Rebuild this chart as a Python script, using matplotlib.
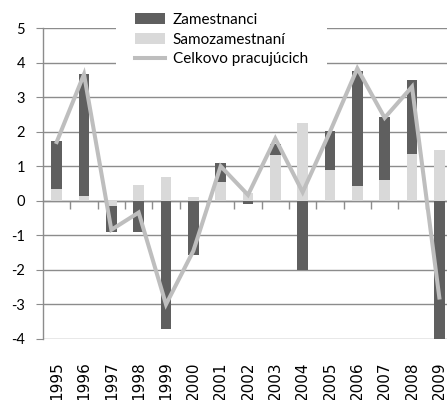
import matplotlib
matplotlib.use('Agg')
import matplotlib.pyplot as plt
import numpy as np

years = ['1995', '1996', '1997', '1998', '1999', '2000', '2001', '2002',
         '2003', '2004', '2005', '2006', '2007', '2008', '2009']
zamestnanci = [1.38, 3.53, -0.74, -0.89, -3.70, -1.57, 0.57, -0.09,
               0.33, -2.00, 1.15, 3.32, 1.82, 2.14, -4.10]
samozamestnani = [0.34, 0.13, -0.15, 0.47, 0.69, 0.12, 0.53, 0.22,
                  1.32, 2.26, 0.88, 0.44, 0.61, 1.36, 1.46]
celkovo = [1.70, 3.66, -0.84, -0.34, -3.00, -1.45, 1.00, 0.17,
           1.80, 0.25, 2.00, 3.83, 2.40, 3.30, -2.80]
y_ticks = [-4, -3, -2, -1, 0, 1, 2, 3, 4, 5]

DARK = '#5f5f5f'
LIGHT = '#d9d9d9'
LINE = '#bebebe'
GRID = '#8c8c8c'

fig = plt.figure(figsize=(4.47, 4.0), dpi=100)
ax = fig.add_axes([43 / 447, 61 / 400, 410 / 447, 311 / 400])

x = np.arange(len(years))
zam = np.array(zamestnanci)
samo = np.array(samozamestnani)
# Excel stacks positive and negative values separately
bottom_zam = np.where(np.sign(zam) == np.sign(samo), samo, 0)

bars_samo = ax.bar(x, samo, width=0.4, color=LIGHT, zorder=2)
bars_zam = ax.bar(x, zam, width=0.4, bottom=bottom_zam, color=DARK, zorder=2)
line_cel, = ax.plot(x, celkovo, color=LINE, lw=2.9, zorder=3, solid_joinstyle='miter')

ax.set_xlim(-0.5, len(years) - 0.5)
ax.set_ylim(y_ticks[0], y_ticks[-1])
ax.set_yticks(y_ticks)
ax.set_yticklabels([str(t) for t in y_ticks], family='Lato', fontsize=10.5)
ax.yaxis.grid(True, color=GRID, lw=1.0, zorder=0)
ax.set_axisbelow(True)

ax.set_xticks(x)
ax.set_xticklabels(years, rotation=90, family='DejaVu Sans', fontsize=11, va='top')
ax.tick_params(axis='x', length=0, pad=16)
ax.tick_params(axis='y', length=5, color=GRID, pad=8, direction='out')

for s in ['top', 'right', 'bottom']:
    ax.spines[s].set_visible(False)
ax.spines['left'].set_color(GRID)
ax.spines['left'].set_linewidth(1.0)

# category axis crossing at zero, with ticks between categories
loc0 = (0 - y_ticks[0]) / (y_ticks[-1] - y_ticks[0])
sec = ax.secondary_xaxis(loc0)
sec.set_xticks(np.arange(0.5, len(years) - 1, 1))
sec.set_xticklabels([])
sec.tick_params(length=6, color=GRID, direction='out', width=1.0)
sec.spines['bottom'].set_color(GRID)
sec.spines['bottom'].set_linewidth(1.0)

leg = fig.legend([bars_zam, bars_samo, line_cel],
                 ['Zamestnanci', 'Samozamestnaní', 'Celkovo pracujúcich'],
                 loc='upper left', bbox_to_anchor=(108 / 447, 1.035),
                 prop={'family': 'Lato', 'size': 11},
                 frameon=True, fancybox=False, borderpad=1.25,
                 handlelength=2.0, handleheight=0.7, handletextpad=0.5,
                 labelspacing=0.38)
leg.get_frame().set_facecolor('white')
leg.get_frame().set_edgecolor('none')
leg.get_frame().set_alpha(1)

fig.savefig('out.png', dpi=100)
